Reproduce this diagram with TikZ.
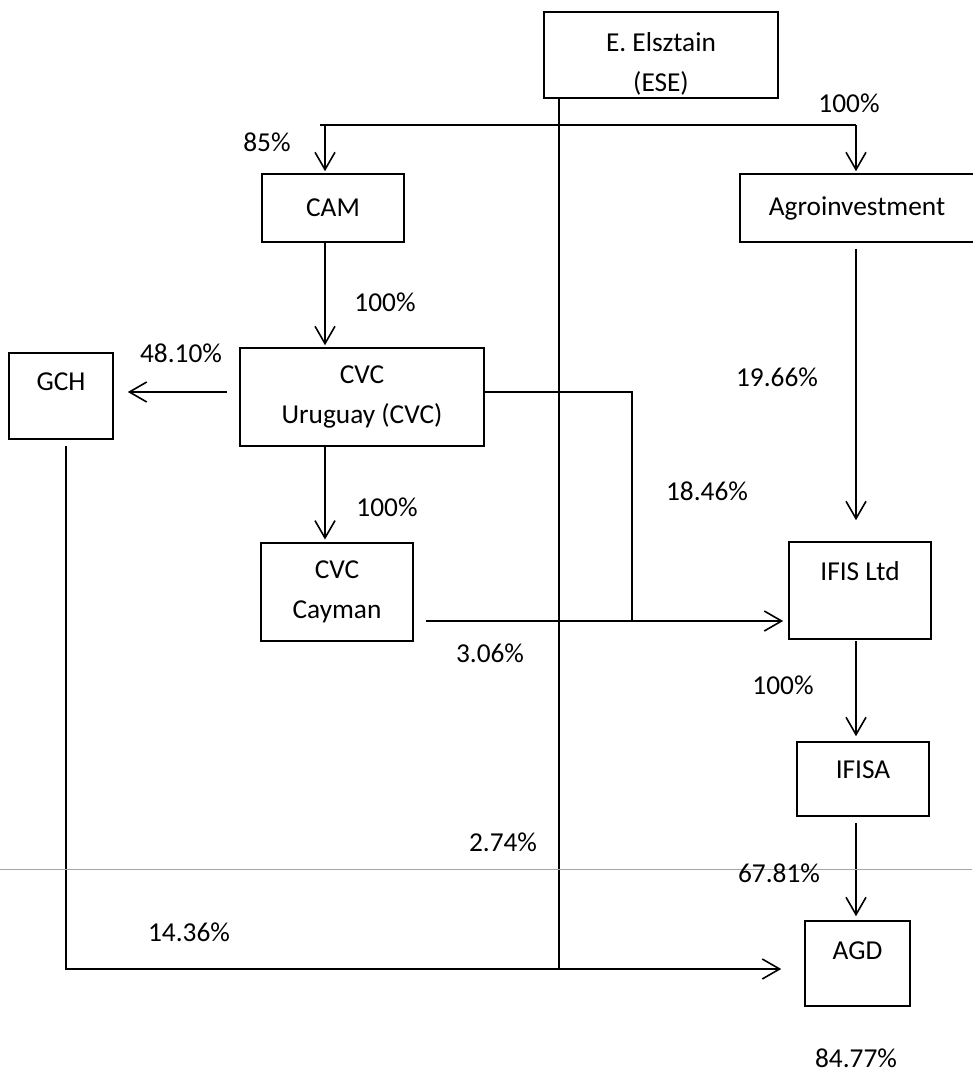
\documentclass[tikz,border=0pt]{standalone}
\usepackage{fontspec}
\setmainfont{Carlito}
\usetikzlibrary{arrows.meta}

\tikzset{
  box/.style={draw, line width=1.2pt, inner sep=0pt, align=center, font=\fontsize{20.5}{30}\selectfont},
  pct/.style={inner sep=0pt, font=\fontsize{20.5}{24}\selectfont},
  link/.style={line width=1.2pt},
  arr/.style={line width=1.2pt, -{Straight Barb[length=13pt,width=15pt]}},
  lift/.style={text depth=#1},
}

\begin{document}
\begin{tikzpicture}[x=0.75pt,y=0.75pt,yscale=-1,xscale=1]
    \useasboundingbox (0,0) rectangle (972,1075);

    % Text Node
    \node[box, minimum width=175.5pt, minimum height=64.5pt, text height=58pt] (ese) at (661,55) {E. Elsztain\\(ESE)};
    % Text Node
    \node[box, minimum width=106.5pt, minimum height=51pt] (cam) at (333,208) {CAM};
    % Text Node
    \node[box, minimum width=175.5pt, minimum height=51pt] (agro) at (857,208) {Agroinvestment};
    % Text Node
    \node[box, minimum width=183pt, minimum height=73.5pt] (cvc) at (362,397) {CVC\\Uruguay (CVC)};
    % Text Node
    \node[box, minimum width=78pt, minimum height=64.5pt, lift=21pt] (gch) at (61,396) {GCH};
    % Text Node
    \node[box, minimum width=114pt, minimum height=73.5pt] (cay) at (337,592) {CVC\\Cayman};
    % Text Node
    \node[box, minimum width=106.5pt, minimum height=72.75pt, lift=28.5pt] (ifis) at (860,590.5) {IFIS Ltd};
    % Text Node
    \node[box, minimum width=99pt, minimum height=55.5pt, lift=13.5pt] (ifisa) at (863,779) {IFISA};
    % Text Node
    \node[box, minimum width=78.75pt, minimum height=63.75pt, lift=19.5pt] (agd) at (857.5,963.5) {AGD};

    % helper points
    \coordinate (bar) at (559,125);
    \coordinate (trunk) at (559,0);
    \coordinate (colA) at (325,0);
    \coordinate (colC) at (856,0);
    \coordinate (rowB) at (0,392);
    \coordinate (joint) at (632,621);
    \coordinate (rowD) at (0,969);

    %Straight Lines
    \draw[link] (ese.south -| trunk) -- (rowD -| trunk);
    %Straight Lines
    \draw[link] ([xshift=-3.75pt]colA |- bar) -- (colC |- bar);
    \draw[arr, shorten >=1.5pt] (colA |- bar) -- (cam.north -| colA);
    \draw[arr, shorten >=1.5pt] (colC |- bar) -- (agro.north -| colC);
    %Straight Lines
    \draw[arr, shorten >=1.5pt] (cam.south -| colA) -- (cvc.north -| colA);
    \draw[arr, shorten >=2pt] (cvc.south -| colA) -- (cay.north -| colA);
    \draw[arr, shorten <=9pt, shorten >=10.5pt] (cvc.west |- rowB) -- (gch.east |- rowB);
    %Straight Lines
    \draw[link] (cvc.east |- rowB) -| (joint);
    \draw[arr, shorten <=9pt, shorten >=3.75pt] (cay.east |- joint) -- (ifis.west |- joint);
    \draw[arr, shorten <=4.5pt, shorten >=15.75pt] (agro.south -| colC) -- (ifis.north -| colC);
    \draw[arr, shorten <=1pt, shorten >=3.75pt] (ifis.south -| colC) -- (ifisa.north -| colC);
    \draw[arr, shorten <=4.5pt, shorten >=3pt] (ifisa.south -| colC) -- (agd.north -| colC);
    %Straight Lines
    \draw[link, shorten <=5pt] ([xshift=3.75pt]gch.south) |- (rowD -| trunk);
    \draw[arr, shorten >=17.25pt] (rowD -| trunk) -- (agd.west |- rowD);

    % scan rule
    \draw[gray!70, line width=0.6pt] (0,869) -- (972,869);

    % Percent labels
    \node[pct] (p-agro) at (849,103) {100\%};
    \node[pct] (p-cam) at (267,142) {85\%};
    \node[pct] (p-cvc) at (385,302) {100\%};
    \node[pct] (p-gch) at (181,353) {48.10\%};
    \node[pct] (p-agro-ifis) at (777,377) {19.66\%};
    \node[pct] (p-cvc-ifis) at (707,491) {18.46\%};
    \node[pct] (p-cay) at (387,507) {100\%};
    \node[pct] (p-cay-ifis) at (490,653) {3.06\%};
    \node[pct] (p-ifisa) at (783,685) {100\%};
    \node[pct] (p-ese-agd) at (503,842) {2.74\%};
    \node[pct] (p-ifisa-agd) at (779,873) {67.81\%};
    \node[pct] (p-gch-agd) at (189,932) {14.36\%};
    \node[pct] (p-agd) at (856,1058) {84.77\%};

\end{tikzpicture}
\end{document}
